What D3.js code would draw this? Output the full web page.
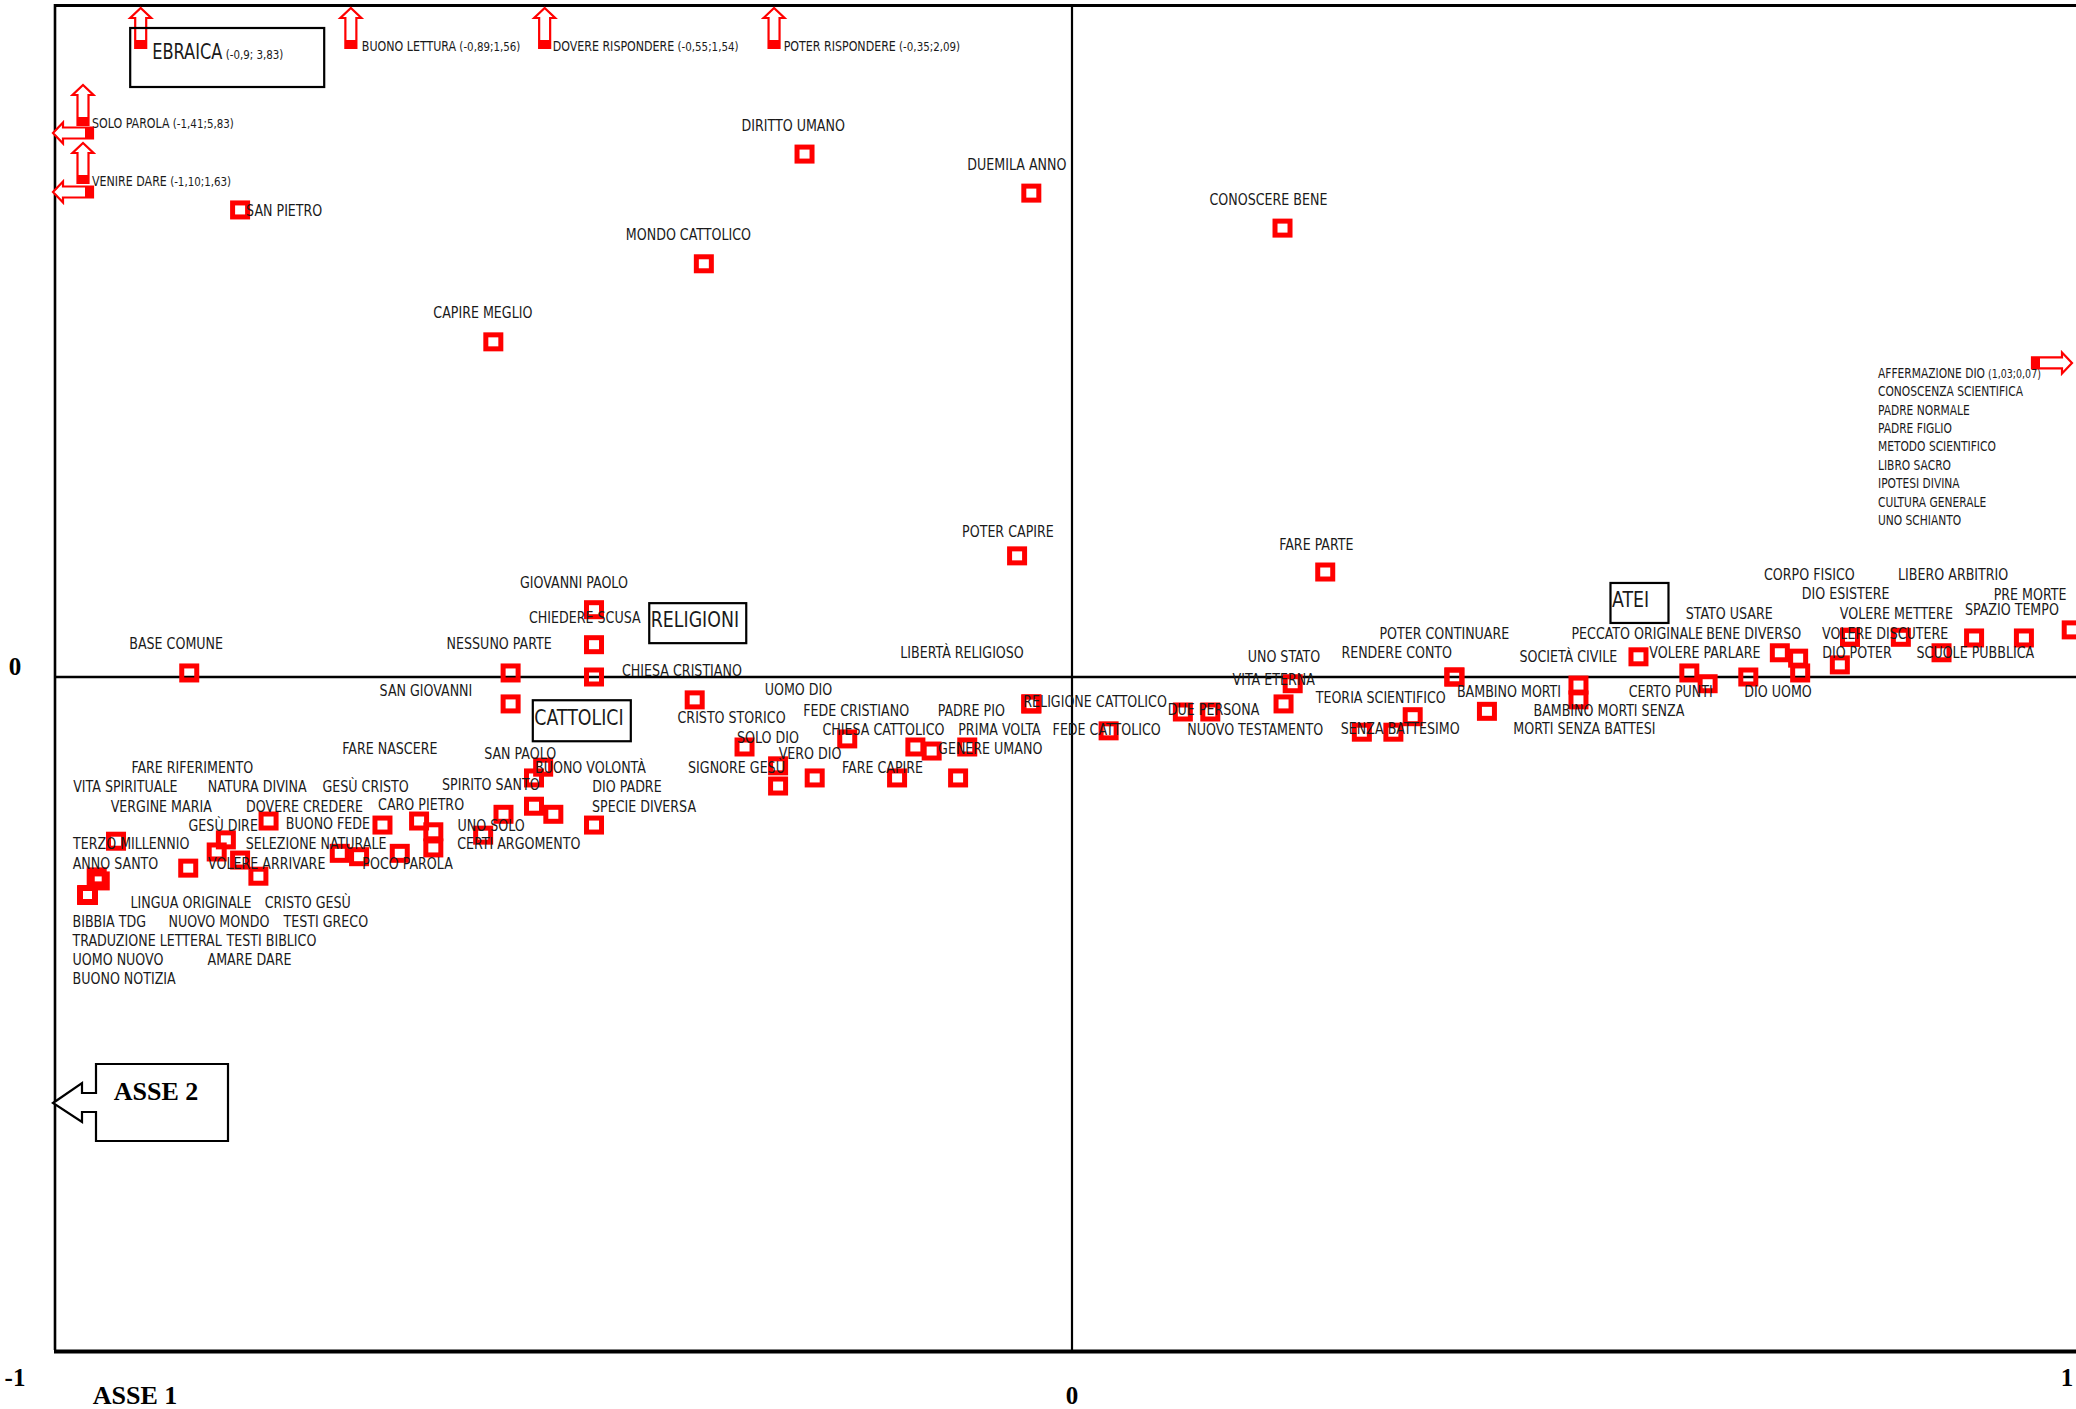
<!DOCTYPE html>
<html>
<head>
<meta charset="utf-8">
<script src="https://cdn.jsdelivr.net/npm/d3@7"></script>
<style>
  html, body { margin: 0; padding: 0; background: #fff; overflow: hidden; }
  svg { display: block; }
</style>
</head>
<body>
<svg id="chart" width="2076" height="1409"></svg>
<script>
// ---- Factor map coordinates (axis 1, axis 2) ----
const upperTerms = [
  ["SAN PIETRO", -0.818, 0.694],
  ["CAPIRE MEGLIO", -0.569, 0.498],
  ["MONDO CATTOLICO", -0.362, 0.614],
  ["DIRITTO UMANO", -0.263, 0.777],
  ["DUEMILA ANNO", -0.040, 0.719],
  ["CONOSCERE BENE", 0.207, 0.667],
  ["POTER CAPIRE", -0.054, 0.180],
  ["FARE PARTE", 0.249, 0.156],
  ["GIOVANNI PAOLO", -0.470, 0.100],
  ["CHIEDERE SCUSA", -0.470, 0.048],
  ["CHIESA CRISTIANO", -0.470, 0.000],
  ["NESSUNO PARTE", -0.552, 0.006],
  ["SAN GIOVANNI", -0.552, -0.040],
  ["BASE COMUNE", -0.868, 0.006]
];

const centralTerms = [
  ["UOMO DIO", -0.371, -0.034],
  ["CRISTO STORICO", -0.322, -0.104],
  ["SOLO DIO", -0.289, -0.132],
  ["SIGNORE GESÙ", -0.289, -0.162],
  ["VERO DIO", -0.253, -0.150],
  ["FEDE CRISTIANO", -0.221, -0.092],
  ["FARE CAPIRE", -0.172, -0.150],
  ["CHIESA CATTOLICO", -0.154, -0.104],
  ["PADRE PIO", -0.138, -0.110],
  ["GENERE UMANO", -0.112, -0.150],
  ["PRIMA VOLTA", -0.103, -0.104],
  ["RELIGIONE CATTOLICO", -0.040, -0.040],
  ["LIBERTÀ RELIGIOSO", -0.040, -0.040],
  ["FEDE CATTOLICO", 0.036, -0.080],
  ["DUE PERSONA", 0.109, -0.052],
  ["NUOVO TESTAMENTO", 0.136, -0.052],
  ["UNO STATO", 0.217, -0.010],
  ["VITA ETERNA", 0.208, -0.040]
];

const rightTerms = [
  ["RENDERE CONTO", 0.376, 0.000],
  ["POTER CONTINUARE", 0.376, 0.000],
  ["TEORIA SCIENTIFICO", 0.335, -0.059],
  ["SENZA BATTESIMO", 0.285, -0.082],
  ["MORTI SENZA BATTESI", 0.316, -0.082],
  ["BAMBINO MORTI", 0.408, -0.051],
  ["BAMBINO MORTI SENZA", 0.498, -0.034],
  ["SOCIETÀ CIVILE", 0.498, -0.012],
  ["PECCATO ORIGINALE", 0.557, 0.030],
  ["VOLERE PARLARE", 0.607, 0.006],
  ["CERTO PUNTI", 0.625, -0.010],
  ["DIO UOMO", 0.665, 0.000],
  ["STATO USARE", 0.696, 0.036],
  ["BENE DIVERSO", 0.714, 0.028],
  ["DIO POTER", 0.716, 0.006],
  ["DIO ESISTERE", 0.755, 0.018],
  ["VOLERE DISCUTERE", 0.765, 0.059],
  ["CORPO FISICO", 0.765, 0.059],
  ["VOLERE METTERE", 0.815, 0.059],
  ["SCUOLE PUBBLICA", 0.855, 0.036],
  ["LIBERO ARBITRIO", 0.887, 0.058],
  ["SPAZIO TEMPO", 0.936, 0.058],
  ["PRE MORTE", 0.983, 0.070]
];

const lowerLeftTerms = [
  ["SAN PAOLO", -0.520, -0.134],
  ["BUONO VOLONTÀ", -0.529, -0.150],
  ["SPIRITO SANTO", -0.529, -0.192],
  ["DIO PADRE", -0.510, -0.204],
  ["SPECIE DIVERSA", -0.470, -0.220],
  ["UNO SOLO", -0.559, -0.204],
  ["CERTI ARGOMENTO", -0.579, -0.235],
  ["CARO PIETRO", -0.642, -0.214],
  ["FARE NASCERE", -0.628, -0.230],
  ["POCO PAROLA", -0.628, -0.254],
  ["SELEZIONE NATURALE", -0.661, -0.262],
  ["GESÙ CRISTO", -0.678, -0.220],
  ["DOVERE CREDERE", -0.701, -0.267],
  ["BUONO FEDE", -0.720, -0.262],
  ["GESÙ DIRE", -0.790, -0.214],
  ["NATURA DIVINA", -0.832, -0.242],
  ["VERGINE MARIA", -0.841, -0.260],
  ["VOLERE ARRIVARE", -0.818, -0.272],
  ["FARE RIFERIMENTO", -0.800, -0.296],
  ["VITA SPIRITUALE", -0.869, -0.284],
  ["TERZO MILLENNIO", -0.940, -0.244],
  ["ANNO SANTO", -0.959, -0.297]
];

// terms sharing (almost) the same position at the far left
const stackedTerms = [
  ["LINGUA ORIGINALE", -0.968, -0.324],
  ["CRISTO GESÙ", -0.956, -0.303],
  ["BIBBIA TDG", -0.968, -0.324],
  ["NUOVO MONDO", -0.968, -0.324],
  ["TESTI GRECO", -0.968, -0.324],
  ["TRADUZIONE LETTERAL", -0.968, -0.324],
  ["TESTI BIBLICO", -0.968, -0.324],
  ["UOMO NUOVO", -0.968, -0.324],
  ["AMARE DARE", -0.968, -0.324],
  ["BUONO NOTIZIA", -0.968, -0.324]
];

// terms lying outside the plotted window, with their coordinates
const offChartTerms = ["EBRAICA", "BUONO LETTURA", "DOVERE RISPONDERE", "POTER RISPONDERE",
                       "SOLO PAROLA", "VENIRE DARE", "AFFERMAZIONE DIO"];
const offChartCoords = ["-0,9; 3,83", "-0,89;1,56", "-0,55;1,54", "-0,35;2,09",
                        "-1,41;5,83", "-1,10;1,63", "1,03;0,07"];
// terms at the same coordinates as AFFERMAZIONE DIO
const affermazioneCluster = ["CONOSCENZA SCIENTIFICA", "PADRE NORMALE", "PADRE FIGLIO",
  "METODO SCIENTIFICO", "LIBRO SACRO", "IPOTESI DIVINA", "CULTURA GENERALE", "UNO SCHIANTO"];

// supplementary categories
const groupNames = ["RELIGIONI", "CATTOLICI", "ATEI"];
const groupAxis1 = [-0.368, -0.482, 0.558];
const groupAxis2 = [0.080, -0.065, 0.110];

const tickValues = [-1, 0, 1];
const axisTitles = ["ASSE 1", "ASSE 2"];

// ---- Layout ----
const W = 2076, H = 1409;
const FONT = "'DejaVu Sans Condensed','DejaVu Sans',sans-serif";
const SERIF = "'Liberation Serif','Times New Roman',serif";
const RED = "#ff0000";
const INK = "#1a1a1a";

// label placement relative to its marker (text start, text middle height), in px
const labelNudge = {
  "SAN PIETRO": [6, 0], "CAPIRE MEGLIO": [-60, -30], "MONDO CATTOLICO": [-78, -30], "DIRITTO UMANO": [-63, -29],
  "DUEMILA ANNO": [-64, -29], "CONOSCERE BENE": [-73, -29], "POTER CAPIRE": [-55, -25], "FARE PARTE": [-46, -28],
  "GIOVANNI PAOLO": [-74, -28], "CHIEDERE SCUSA": [-65, -28], "CHIESA CRISTIANO": [28, -7], "NESSUNO PARTE": [-64, -30],
  "SAN GIOVANNI": [-131, -14], "BASE COMUNE": [-60, -30],
  "UOMO DIO": [70, -11], "CRISTO STORICO": [-67, -30], "SOLO DIO": [-41, -29], "SIGNORE GESÙ": [-90, -19],
  "VERO DIO": [-36, -25], "FEDE CRISTIANO": [-44, -29], "FARE CAPIRE": [-55, -11], "CHIESA CATTOLICO": [-93, -18],
  "PADRE PIO": [6, -41], "GENERE UMANO": [-20, -30], "PRIMA VOLTA": [-9, -18], "RELIGIONE CATTOLICO": [-8, -3],
  "LIBERTÀ RELIGIOSO": [-131, -52], "FEDE CATTOLICO": [-56, -2], "DUE PERSONA": [-15, -3], "NUOVO TESTAMENTO": [-23, 17],
  "UNO STATO": [-45, -28], "VITA ETERNA": [-51, -25],
  "RENDERE CONTO": [-113, -25], "POTER CONTINUARE": [-75, -44], "TEORIA SCIENTIFICO": [-97, -20], "SENZA BATTESIMO": [-21, -4],
  "MORTI SENZA BATTESI": [120, -4], "BAMBINO MORTI": [-30, -20], "BAMBINO MORTI SENZA": [-45, 10], "SOCIETÀ CIVILE": [-59, -29],
  "PECCATO ORIGINALE": [-67, -24], "VOLERE PARLARE": [-40, -21], "CERTO PUNTI": [-79, 7], "DIO UOMO": [-4, 14],
  "STATO USARE": [-94, -40], "BENE DIVERSO": [-92, -25], "DIO POTER": [22, -21], "DIO ESISTERE": [-38, -72],
  "VOLERE DISCUTERE": [-28, -4], "CORPO FISICO": [-86, -63], "VOLERE METTERE": [-61, -24], "SCUOLE PUBBLICA": [-25, -1],
  "LIBERO ARBITRIO": [-76, -64], "SPAZIO TEMPO": [-59, -29], "PRE MORTE": [-78, -36],
  "SAN PAOLO": [-59, -14], "BUONO VOLONTÀ": [1, -11], "SPIRITO SANTO": [-92, -22], "DIO PADRE": [39, -28],
  "SPECIE DIVERSA": [-2, -19], "UNO SOLO": [-46, 11], "CERTI ARGOMENTO": [-26, 8], "CARO PIETRO": [-41, -17],
  "FARE NASCERE": [-91, -84], "POCO PAROLA": [-71, 15], "SELEZIONE NATURALE": [-154, -10], "GESÙ CRISTO": [-60, -39],
  "DOVERE CREDERE": [-113, -51], "BUONO FEDE": [-54, -30], "GESÙ DIRE": [-80, 4], "NATURA DIVINA": [-18, -54],
  "VERGINE MARIA": [-106, -46], "VOLERE ARRIVARE": [-32, 3], "FARE RIFERIMENTO": [-127, -109], "VITA SPIRITUALE": [-115, -82],
  "TERZO MILLENNIO": [-43, 2], "ANNO SANTO": [-24, -14],
  "LINGUA ORIGINALE": [43, 7], "CRISTO GESÙ": [165, 21], "BIBBIA TDG": [-15, 26], "NUOVO MONDO": [81, 26],
  "TESTI GRECO": [196, 26], "TRADUZIONE LETTERAL": [-15, 45], "TESTI BIBLICO": [139, 45], "UOMO NUOVO": [-15, 64],
  "AMARE DARE": [120, 64], "BUONO NOTIZIA": [-15, 83]
};

// arrows for terms beyond the window: [direction, dx, dy] from the clamped position
const offChartLayout = {
  "EBRAICA":           { arrows: [["up", -16, 44]], text: [11.5, 4], size: 20.5, coordSize: 13, frame: [-10.5, -20, 194, 59] },
  "BUONO LETTURA":     { arrows: [["up", 184, 44]], text: [11, -2.5], size: 14, coordSize: 13 },
  "DOVERE RISPONDERE": { arrows: [["up", 32, 44]], text: [8, -2.5], size: 14, coordSize: 13 },
  "POTER RISPONDERE":  { arrows: [["up", 58, 44]], text: [9.6, -2.5], size: 14, coordSize: 13 },
  "SOLO PAROLA":       { arrows: [["up", 28, 121], ["left", 38, 129]], text: [9, -2], size: 14, coordSize: 13 },
  "VENIRE DARE":       { arrows: [["up", 28, 179], ["left", 38, 188]], text: [9, -2], size: 14, coordSize: 13 },
  "AFFERMAZIONE DIO":  { arrows: [["right", -57, -267]], text: [-154, 10], size: 13.5, coordSize: 12, step: 18.4 }
};

const groupFrame = { "RELIGIONI": [97, 40], "CATTOLICI": [98, 41], "ATEI": [58, 40] };

// ---- Scales ----
const x = d3.scaleLinear().domain([-1, 1]).range([55, 2089]);
const y = d3.scaleLinear().domain([-1, 1]).range([1350, 4]);

const svg = d3.select("#chart");
svg.append("rect").attr("width", W).attr("height", H).attr("fill", "#fff");

// condensed lettering: calibrate horizontal squeeze on a sample word
const probe = svg.append("text").attr("font-family", FONT).attr("font-stretch", "condensed")
  .attr("font-size", 16).text("GIOVANNI PAOLO");
const squeeze = 108 / probe.node().getComputedTextLength();
probe.remove();

function label(g, str, px, py, size, coord, coordSize) {
  const t = g.append("text")
    .attr("transform", `translate(${px},${py + size * 0.365}) scale(${squeeze},1)`)
    .attr("font-family", FONT).attr("font-stretch", "condensed")
    .attr("font-size", size).attr("fill", INK);
  t.append("tspan").text(str);
  if (coord) t.append("tspan").attr("font-size", coordSize).text(" (" + coord + ")");
  return t;
}

// ---- Frame and axes ----
const lines = svg.append("g").attr("stroke", "#000").attr("fill", "none");
lines.append("line").attr("x1", x(-1) - 1).attr("x2", x(1)).attr("y1", y(1) + 1.5).attr("y2", y(1) + 1.5).attr("stroke-width", 3);
lines.append("line").attr("x1", x(-1)).attr("x2", x(-1)).attr("y1", y(1)).attr("y2", y(-1)).attr("stroke-width", 2.6);
lines.append("line").attr("x1", x(1)).attr("x2", x(1)).attr("y1", y(1)).attr("y2", y(-1)).attr("stroke-width", 2.6);
lines.append("line").attr("x1", x(-1) - 1).attr("x2", x(1)).attr("y1", y(-1) + 1.5).attr("y2", y(-1) + 1.5).attr("stroke-width", 4);
lines.append("line").attr("x1", x(-1)).attr("x2", x(1)).attr("y1", y(0)).attr("y2", y(0)).attr("stroke-width", 2.6);
lines.append("line").attr("x1", x(0)).attr("x2", x(0)).attr("y1", y(1)).attr("y2", y(-1)).attr("stroke-width", 2.2);

// tick labels
const ticks = svg.append("g").attr("font-family", SERIF).attr("font-weight", "bold")
  .attr("font-size", 25).attr("fill", "#000").attr("text-anchor", "middle");
const tickNudge = { "-1": [-40, 36], "0": [0, 54], "1": [-22, 36] };
tickValues.forEach(v => {
  const [dx, dy] = tickNudge[String(v)];
  ticks.append("text").attr("x", x(v) + dx).attr("y", y(-1) + dy).text(v);
});
ticks.append("text").attr("x", x(-1) - 40).attr("y", y(0) - 2).text(0);
ticks.append("text").attr("x", x(-1) + 80).attr("y", y(-1) + 54).attr("font-size", 26).text(axisTitles[0]);

// axis 2 callout pointing at the vertical frame
const callout = svg.append("g").attr("transform", `translate(${x(-1) - 2},${y(-0.633)})`);
callout.append("path")
  .attr("d", "M0,0 L29,-20 L29,-10 L43,-10 L43,-39 L175,-39 L175,38 L43,38 L43,9 L29,9 L29,19 Z")
  .attr("fill", "#fff").attr("stroke", "#000").attr("stroke-width", 2.2);
callout.append("text").attr("x", 103).attr("y", -3).attr("text-anchor", "middle")
  .attr("font-family", SERIF).attr("font-weight", "bold").attr("font-size", 26).attr("fill", "#000")
  .text(axisTitles[1]);

// ---- Markers ----
const allTerms = [...upperTerms, ...centralTerms, ...rightTerms, ...lowerLeftTerms, ...stackedTerms];
svg.append("g").selectAll("rect").data(allTerms).join("rect")
  .attr("x", d => x(d[1]) - 7.5).attr("y", d => y(d[2]) - 7)
  .attr("width", 15).attr("height", 14)
  .attr("fill", "none").attr("stroke", RED).attr("stroke-width", 5);

// ---- Off-window arrows ----
const arrowLayer = svg.append("g");
function drawArrow(bx, by, dir) {
  const rot = { up: 0, left: -90, right: 90 }[dir];
  const a = arrowLayer.append("g").attr("transform", `translate(${bx},${by}) rotate(${rot})`);
  a.append("path").attr("d", "M-5.5,0 L-5.5,-30 L-10.5,-30 L0,-40 L10.5,-30 L5.5,-30 L5.5,0 Z")
    .attr("fill", "#fff").attr("stroke", RED).attr("stroke-width", 2.2);
  a.append("rect").attr("x", -5.5).attr("y", -8).attr("width", 11).attr("height", 8).attr("fill", RED);
}

const labelLayer = svg.append("g");
const clamp = v => Math.max(-1, Math.min(1, v));
offChartTerms.forEach((name, i) => {
  const [vx, vy] = offChartCoords[i].split(";").map(s => +s.trim().replace(",", "."));
  const px = x(clamp(vx)), py = y(clamp(vy));
  const lay = offChartLayout[name];
  lay.arrows.forEach(([dir, dx, dy]) => drawArrow(px + dx, py + dy, dir));
  const bx = px + lay.arrows[0][1], by = py + lay.arrows[0][2];
  if (lay.frame) {
    const [fx, fy, fw, fh] = lay.frame;
    arrowLayer.append("rect").attr("x", bx + fx).attr("y", by + fy).attr("width", fw).attr("height", fh)
      .attr("fill", "none").attr("stroke", "#000").attr("stroke-width", 2.2);
  }
  label(labelLayer, name, bx + lay.text[0], by + lay.text[1], lay.size, offChartCoords[i], lay.coordSize);
  if (name === "AFFERMAZIONE DIO") {
    affermazioneCluster.forEach((t, j) =>
      label(labelLayer, t, bx + lay.text[0], by + lay.text[1] + (j + 1) * lay.step, lay.size));
  }
});

// ---- Supplementary categories ----
groupNames.forEach((g, i) => {
  const cx = x(groupAxis1[i]), cy = y(groupAxis2[i]);
  const [fw, fh] = groupFrame[g];
  svg.append("rect").attr("x", cx - fw / 2).attr("y", cy - fh / 2).attr("width", fw).attr("height", fh)
    .attr("fill", "none").attr("stroke", "#000").attr("stroke-width", 2.2);
  label(labelLayer, g, cx - fw / 2 + 1.5, cy - 4, 22);
});
labelLayer.raise();

// ---- Term labels ----
allTerms.forEach(([name, vx, vy]) => {
  const [dx, dy] = labelNudge[name];
  label(labelLayer, name, x(vx) + dx, y(vy) + dy, 16);
});
</script>
</body>
</html>
